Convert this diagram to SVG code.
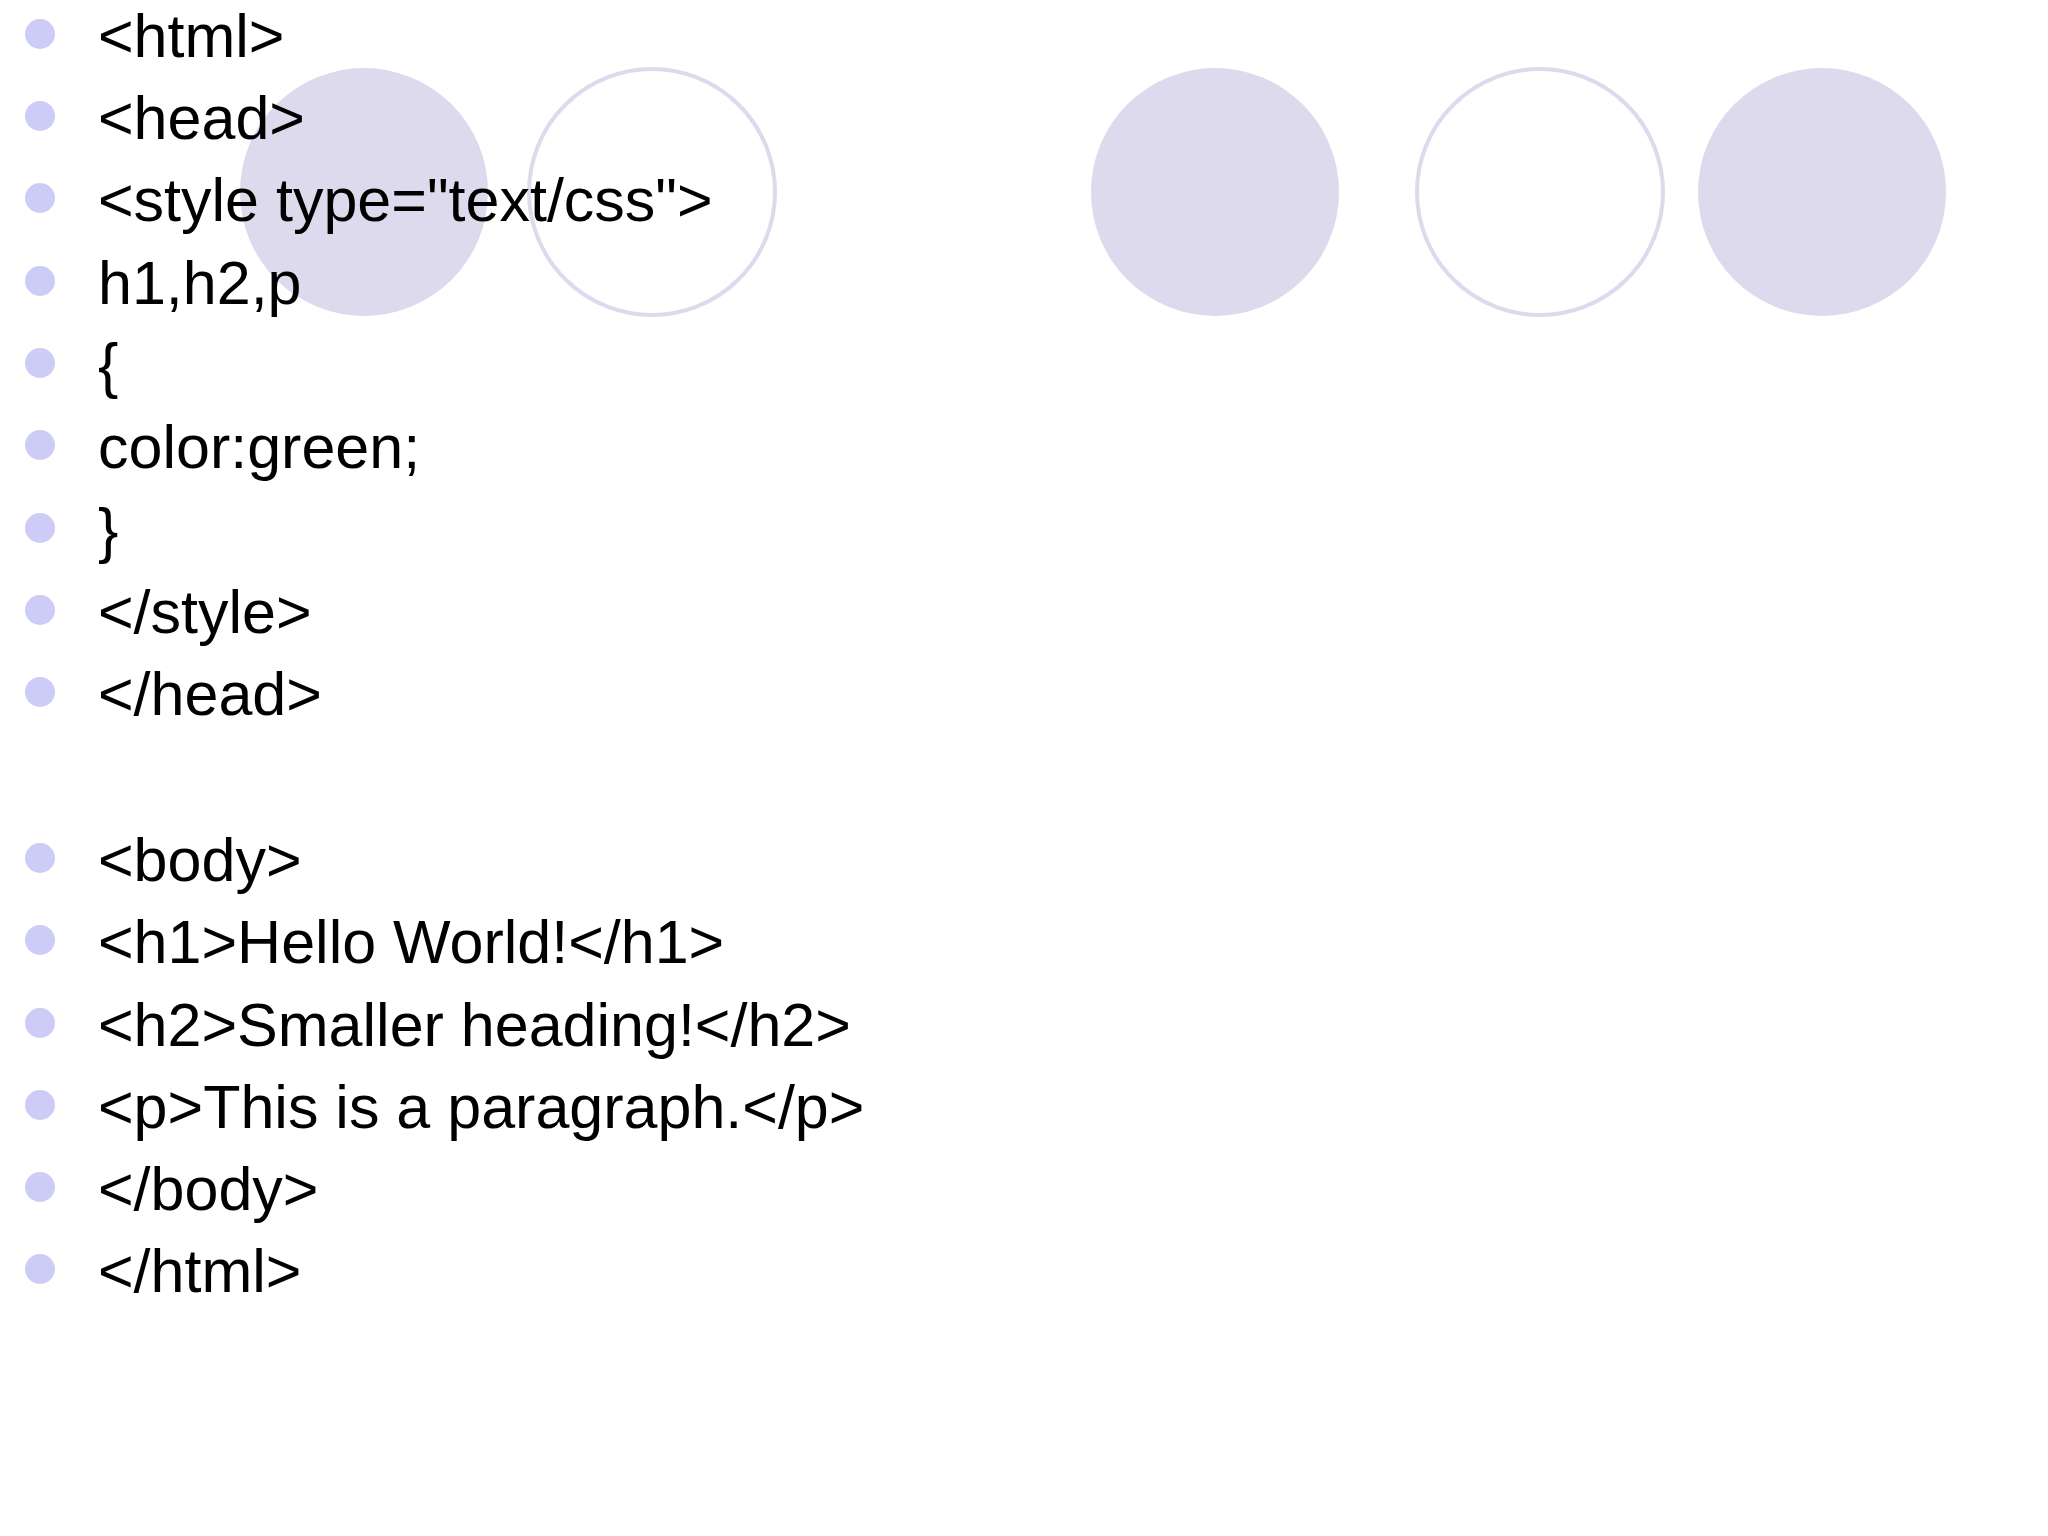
<svg xmlns="http://www.w3.org/2000/svg" width="2048" height="1536" viewBox="0 0 2048 1536">
<style>
.f{fill:#dcdaec}
.o{fill:none;stroke:#dcdaec;stroke-width:4}
.b{fill:#ccccf6}
text{font-family:"Liberation Sans",Arial,sans-serif;font-size:61px;fill:#000}
</style>
<rect width="2048" height="1536" fill="#fff"/>
<g id="deco">
<circle class="f" cx="364" cy="192" r="124"/>
<circle class="o" cx="652" cy="192" r="123"/>
<circle class="f" cx="1215" cy="192" r="124"/>
<circle class="o" cx="1540" cy="192" r="123"/>
<circle class="f" cx="1822" cy="192" r="124"/>
</g>
<g id="bullets">
<circle class="b" cx="40" cy="34" r="15"/>
<circle class="b" cx="40" cy="116" r="15"/>
<circle class="b" cx="40" cy="198" r="15"/>
<circle class="b" cx="40" cy="281" r="15"/>
<circle class="b" cx="40" cy="363" r="15"/>
<circle class="b" cx="40" cy="445" r="15"/>
<circle class="b" cx="40" cy="528" r="15"/>
<circle class="b" cx="40" cy="610" r="15"/>
<circle class="b" cx="40" cy="692" r="15"/>
<circle class="b" cx="40" cy="858" r="15"/>
<circle class="b" cx="40" cy="940" r="15"/>
<circle class="b" cx="40" cy="1023" r="15"/>
<circle class="b" cx="40" cy="1105" r="15"/>
<circle class="b" cx="40" cy="1187" r="15"/>
<circle class="b" cx="40" cy="1269" r="15"/>
</g>
<g id="lines">
<text x="98" y="57">&lt;html&gt;</text>
<text x="98" y="139">&lt;head&gt;</text>
<text x="98" y="221">&lt;style type="text/css"&gt;</text>
<text x="98" y="304">h1,h2,p</text>
<text x="98" y="386">{</text>
<text x="98" y="468">color:green;</text>
<text x="98" y="551">}</text>
<text x="98" y="633">&lt;/style&gt;</text>
<text x="98" y="715">&lt;/head&gt;</text>
<text x="98" y="881">&lt;body&gt;</text>
<text x="98" y="963">&lt;h1&gt;Hello World!&lt;/h1&gt;</text>
<text x="98" y="1046">&lt;h2&gt;Smaller heading!&lt;/h2&gt;</text>
<text x="98" y="1128">&lt;p&gt;This is a paragraph.&lt;/p&gt;</text>
<text x="98" y="1210">&lt;/body&gt;</text>
<text x="98" y="1292">&lt;/html&gt;</text>
</g>
</svg>
